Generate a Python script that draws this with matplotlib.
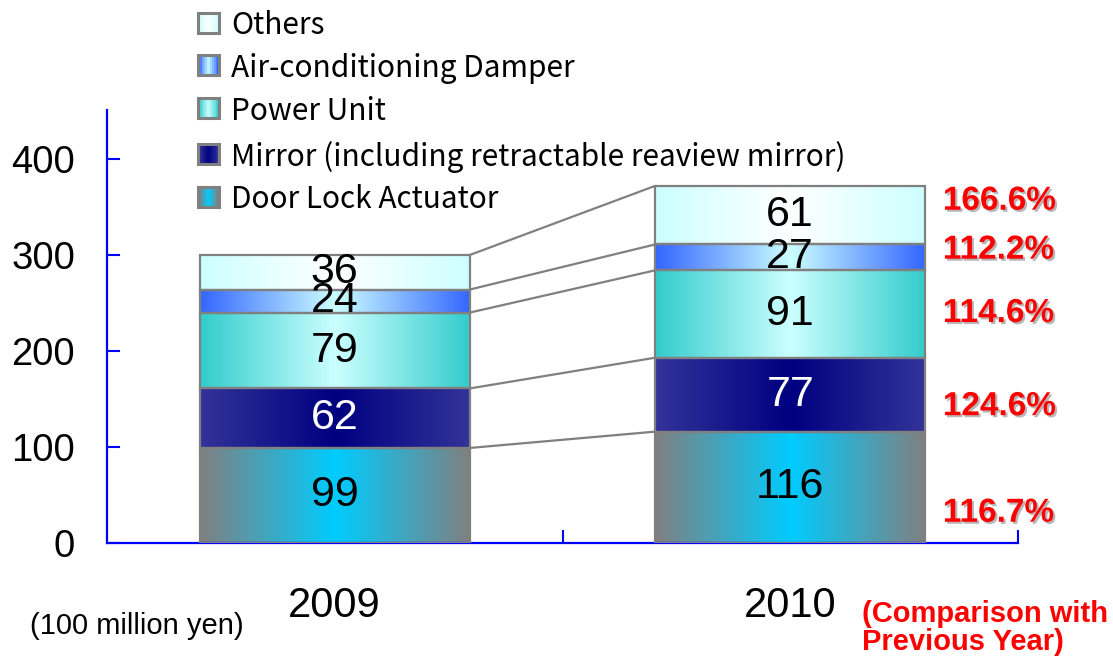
import numpy as np
import matplotlib
matplotlib.use('Agg')
import matplotlib.pyplot as plt
from matplotlib.patches import Rectangle
import matplotlib.patheffects as pe

# ---------------- data ----------------
years = ['2009', '2010']
series = ['Door Lock Actuator',
          'Mirror (including retractable reaview mirror)',
          'Power Unit',
          'Air-conditioning Damper',
          'Others']
door_lock = [99, 116]
mirror = [62, 77]
power_unit = [79, 91]
damper = [24, 27]
others = [36, 61]
yoy_labels = ['116.7%', '124.6%', '114.6%', '112.2%', '166.6%']
yticks = [0, 100, 200, 300, 400]

# ---------------- style ----------------
edge_cols = ['#808080', '#333399', '#33CCCC', '#3366FF', '#CCFFFF']
center_cols = ['#00CCFF', '#000080', '#CCFFFF', '#CCFFFF', '#FFFFFF']
text_cols = ['black', 'white', 'black', 'black', 'black']
yoy_y = [31, 142, 239, 305, 356]          # label placement (data units)
GRAY = '#808080'
BLUE = '#0000FF'
bar_w = 0.593

plt.rcParams['font.family'] = ['Liberation Sans', 'DejaVu Sans']

fig = plt.figure(figsize=(11.13, 6.58), dpi=100)
ax = fig.add_axes([107 / 1113, 115 / 658, (1018 - 107) / 1113, (543 - 110) / 658])


def to_rgb(h):
    return np.array(matplotlib.colors.to_rgb(h))


def gradient(edge, center, n=256):
    t = np.abs(np.linspace(-1, 1, n))[:, None]
    e, c = to_rgb(edge), to_rgb(center)
    return (c * (1 - t) + e * t)[None, :, :]


data = [door_lock, mirror, power_unit, damper, others]
x = np.arange(len(years))
bottoms = np.zeros(len(years))
tops = []
for k, vals in enumerate(data):
    vals = np.array(vals, dtype=float)
    img = gradient(edge_cols[k], center_cols[k])
    for i in range(len(years)):
        x0, x1 = x[i] - bar_w / 2, x[i] + bar_w / 2
        y0, y1 = bottoms[i], bottoms[i] + vals[i]
        ax.imshow(img, extent=(x0, x1, y0, y1), aspect='auto',
                  interpolation='bilinear', zorder=2)
        ax.add_patch(Rectangle((x0, y0), bar_w, vals[i], fill=False,
                               edgecolor=GRAY, lw=1.6, zorder=3))
        ax.text(x[i], y0 + vals[i] / 2, f'{int(vals[i])}', ha='center',
                va='center', fontsize=31, color=text_cols[k], zorder=5)
    bottoms = bottoms + vals
    tops.append(bottoms.copy())

# connector lines between the two bars
for top in tops:
    ax.plot([x[0] + bar_w / 2, x[1] - bar_w / 2], [top[0], top[1]],
            color=GRAY, lw=1.6, zorder=1, solid_capstyle='butt')

# year-over-year labels
for lab, yy in zip(yoy_labels, yoy_y):
    ax.text(1.335, yy, lab, ha='left', va='center', fontsize=24,
            fontweight='bold', color='#FF0000', clip_on=False,
            path_effects=[pe.SimplePatchShadow(offset=(1.5, -1.5),
                                               shadow_rgbFace='#999999',
                                               alpha=0.7),
                          pe.Normal()])

ax.set_xlim(-0.5, 1.5)
ax.set_ylim(0, 451)
ax.set_yticks(yticks)
ax.set_xticks(x)
ax.set_xticklabels(years, fontsize=30)
ax.set_xticks([0.5, 1.5], minor=True)
ax.tick_params(axis='x', which='major', length=0, pad=31)
ax.tick_params(axis='x', which='minor', direction='in', length=9.5,
               width=1.5, color=BLUE)
ax.tick_params(axis='y', direction='in', length=9.5, width=1.5,
               color=BLUE, labelsize=27.5, pad=23)
for s in ['top', 'right']:
    ax.spines[s].set_visible(False)
for s in ['left', 'bottom']:
    ax.spines[s].set_color(BLUE)
    ax.spines[s].set_linewidth(1.6)
ax.set_facecolor('none')

# legend (drawn manually with gradient swatches), top entry = last series
W, H = 1113, 658
row_y = [197, 154, 108, 65, 23]
for k, name in enumerate(series):
    cy = row_y[k]
    sx0, sx1 = 198, 219
    n = 12
    grad = gradient(edge_cols[k], center_cols[k], n)[0]
    sw = (sx1 - sx0) / n
    for j in range(n):
        fig.add_artist(Rectangle(((sx0 + j * sw) / W, (H - cy - 10) / H),
                                 sw / W, 20 / H, transform=fig.transFigure,
                                 facecolor=grad[j], edgecolor='none'))
    fig.add_artist(Rectangle((sx0 / W, (H - cy - 10) / H), (sx1 - sx0) / W,
                             20 / H, transform=fig.transFigure, fill=False,
                             edgecolor=GRAY, lw=2.2))
    fig.text(231 / W, (H - cy - 3) / H, name, ha='left', va='center',
             fontsize=21.5, family=['Noto Sans CJK JP', 'DejaVu Sans'])

fig.text(30 / W, (H - 626) / H, '(100 million yen)', ha='left', va='center',
         fontsize=21)
fig.text(862 / W, (H - 628) / H, '(Comparison with\nPrevious Year)',
         ha='left', va='center', fontsize=21, fontweight='bold',
         color='#FF0000', linespacing=1.0)

fig.savefig('out.png', dpi=100)
